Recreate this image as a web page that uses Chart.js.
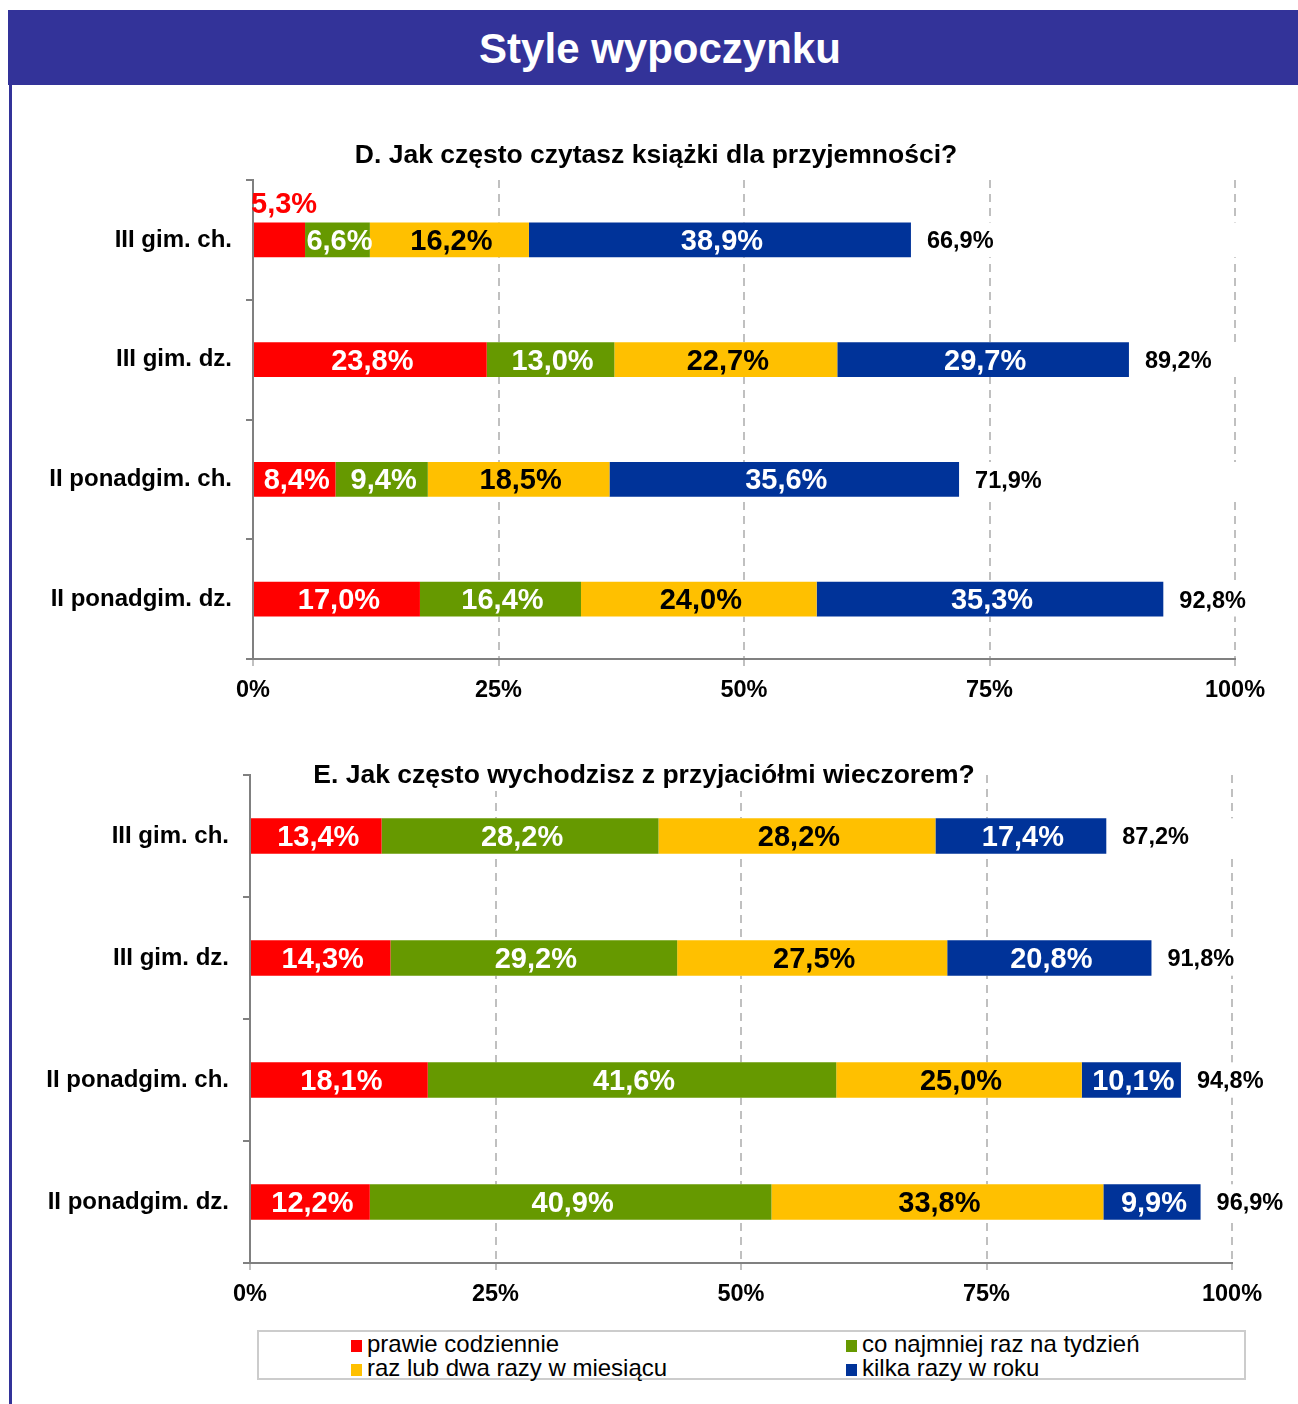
<!DOCTYPE html>
<html lang="pl">
<head>
<meta charset="utf-8">
<title>Style wypoczynku</title>
<script src="https://cdn.jsdelivr.net/npm/chart.js@4.4.1/dist/chart.umd.min.js"></script>
<style>
  body { margin: 0; background: #fff; font-family: 'Liberation Sans', Arial, sans-serif; }
  #page { position: relative; width: 1298px; height: 1404px; overflow: hidden; }
  #header {
    position: absolute; left: 8px; top: 10px; width: 1290px; height: 75px;
    background: #333399; color: #fff; font-weight: bold; font-size: 42px;
    text-align: center; line-height: 77px; padding-left: 14px; box-sizing: border-box;
  }
  #leftLine { position: absolute; left: 9px; top: 84px; width: 3px; height: 1320px; background: #333399; }
  canvas { position: absolute; left: 0; }
  #legend {
    position: absolute; left: 257px; top: 1330px; width: 989px; height: 50px;
    border: 2px solid #cccccc; box-sizing: border-box;
  }
  .item { position: absolute; font-size: 24px; line-height: 24px; color: #000; white-space: nowrap; }
  .mark { display: inline-block; width: 11px; height: 12px; margin-right: 5px; }
</style>
</head>
<body>
<div id="page">
  <div id="header">Style wypoczynku</div>
  <div id="leftLine"></div>
  <canvas id="chartD" width="1298" height="620" style="top:100px"></canvas>
  <canvas id="chartE" width="1298" height="600" style="top:720px"></canvas>
  <div id="legend"></div>
</div>

<script>
// categories and series
const categories = ['III gim. ch.', 'III gim. dz.', 'II ponadgim. ch.', 'II ponadgim. dz.'];
const seriesNames = ['prawie codziennie', 'co najmniej raz na tydzień', 'raz lub dwa razy w miesiącu', 'kilka razy w roku'];
const xTicks = [0, 25, 50, 75, 100];

// D. Jak często czytasz książki dla przyjemności?
const booksDaily = [5.3, 23.8, 8.4, 17.0];
const booksWeekly = [6.6, 13.0, 9.4, 16.4];
const booksMonthly = [16.2, 22.7, 18.5, 24.0];
const booksYearly = [38.9, 29.7, 35.6, 35.3];
const booksTotal = [66.9, 89.2, 71.9, 92.8];

// E. Jak często wychodzisz z przyjaciółmi wieczorem?
const friendsDaily = [13.4, 14.3, 18.1, 12.2];
const friendsWeekly = [28.2, 29.2, 41.6, 40.9];
const friendsMonthly = [28.2, 27.5, 25.0, 33.8];
const friendsYearly = [17.4, 20.8, 10.1, 9.9];
const friendsTotal = [87.2, 91.8, 94.8, 96.9];

const FONT = "'Liberation Sans', Arial, sans-serif";
const colors = ['#ff0000', '#669900', '#ffc000', '#003399'];
const textColors = ['#ffffff', '#ffffff', '#000000', '#ffffff'];

const fmt = v => v.toFixed(1).replace('.', ',') + '%';

// labels inside the bars, totals, title
const barLabels = {
    id: 'barLabels',
    beforeDatasetsDraw(chart) {
        // white band behind each bar row hides the gridlines there
        const { ctx, chartArea } = chart;
        const meta = chart.getDatasetMeta(0);
        ctx.save();
        ctx.fillStyle = '#ffffff';
        meta.data.forEach(bar => {
            ctx.fillRect(chartArea.left + 2, bar.y - bar.height / 2, chartArea.right - chartArea.left + 2, bar.height);
        });
        ctx.restore();
    },
    afterDatasetsDraw(chart, args, opts) {
        const { ctx } = chart;
        ctx.save();
        ctx.font = 'bold 29px ' + FONT;
        chart.data.datasets.forEach((ds, di) => {
            const meta = chart.getDatasetMeta(di);
            meta.data.forEach((bar, i) => {
                const text = fmt(ds.data[i]);
                const w = ctx.measureText(text).width;
                if (w > bar.x - bar.base + 4) {
                    // too small: put it above the bar in the series colour
                    ctx.fillStyle = ds.backgroundColor;
                    ctx.textAlign = 'left';
                    ctx.textBaseline = 'alphabetic';
                    ctx.fillText(text, bar.base - 3, bar.y - bar.height / 2 - 10);
                } else {
                    ctx.fillStyle = ds.labelColor;
                    ctx.textAlign = 'center';
                    ctx.textBaseline = 'middle';
                    ctx.fillText(text, (bar.x + bar.base) / 2 + 2, bar.y + 2);
                }
            });
        });

        const last = chart.getDatasetMeta(chart.data.datasets.length - 1);
        ctx.font = 'bold 23.5px ' + FONT;
        ctx.fillStyle = '#000000';
        ctx.textAlign = 'left';
        ctx.textBaseline = 'middle';
        last.data.forEach((bar, i) => ctx.fillText(fmt(opts.totals[i]), bar.x + 16, bar.y + 2));
        ctx.restore();
    },
    afterDraw(chart, args, opts) {
        const { ctx } = chart;
        ctx.save();
        ctx.font = 'bold 26.5px ' + FONT;
        const w = ctx.measureText(opts.title).width;
        if (opts.titleBg) {
            ctx.fillStyle = '#ffffff';
            ctx.fillRect(opts.titleX - w / 2 - 4, opts.titleY - 15, w + 8, 30);
        }
        ctx.fillStyle = '#000000';
        ctx.textAlign = 'center';
        ctx.textBaseline = 'middle';
        ctx.fillText(opts.title, opts.titleX, opts.titleY);
        ctx.restore();
    }
};

function makeChart(canvasId, values, totals, title, geo) {
    const datasets = values.map((data, i) => ({
        label: seriesNames[i],
        data: data,
        backgroundColor: colors[i],
        labelColor: textColors[i],
        borderWidth: 0,
        barPercentage: 0.29,
        categoryPercentage: 1
    }));

    return new Chart(document.getElementById(canvasId), {
        type: 'bar',
        data: { labels: categories, datasets: datasets },
        plugins: [barLabels],
        options: {
            indexAxis: 'y',
            responsive: false,
            animation: false,
            devicePixelRatio: 1,
            layout: { padding: { top: geo.top, right: geo.right, bottom: 0, left: 0 } },
            scales: {
                x: {
                    stacked: true,
                    min: 0,
                    max: 100,
                    afterBuildTicks: scale => { scale.ticks = xTicks.map(v => ({ value: v })); },
                    afterFit: scale => { scale.height = geo.xHeight; },
                    ticks: {
                        callback: v => v + '%',
                        color: '#000000',
                        font: { family: FONT, size: 23.5, weight: 'bold' },
                        padding: 10,
                        maxRotation: 0
                    },
                    grid: {
                        color: '#c0c0c0',
                        lineWidth: 2,
                        tickLength: 7,
                        tickColor: '#c0c0c0'
                    },
                    border: { display: true, color: '#808080', width: 2, dash: [8, 6] }
                },
                y: {
                    stacked: true,
                    afterFit: scale => { scale.width = geo.yWidth; },
                    ticks: {
                        color: '#000000',
                        font: { family: FONT, size: 24, weight: 'bold' },
                        padding: geo.labelPad
                    },
                    grid: {
                        offset: true,
                        drawOnChartArea: false,
                        drawTicks: true,
                        tickLength: 7,
                        color: '#808080',
                        lineWidth: 2
                    },
                    border: { display: true, color: '#808080', width: 2 }
                }
            },
            plugins: {
                legend: { display: false },
                title: { display: false },
                tooltip: { enabled: false },
                barLabels: { totals: totals, title: title, titleX: geo.titleX, titleY: geo.titleY, titleBg: geo.titleBg }
            }
        }
    });
}

makeChart('chartD', [booksDaily, booksWeekly, booksMonthly, booksYearly], booksTotal,
    'D. Jak często czytasz książki dla przyjemności?',
    { top: 80, right: 63, xHeight: 61, yWidth: 253, labelPad: 14, titleX: 656, titleY: 56, titleBg: false });

makeChart('chartE', [friendsDaily, friendsWeekly, friendsMonthly, friendsYearly], friendsTotal,
    'E. Jak często wychodzisz z przyjaciółmi wieczorem?',
    { top: 55, right: 66, xHeight: 57, yWidth: 250, labelPad: 14, titleX: 644, titleY: 56, titleBg: true });

// legend box
const legend = document.getElementById('legend');
seriesNames.forEach((name, i) => {
    const item = document.createElement('div');
    item.className = 'item';
    item.style.left = (92 + (i % 2) * 495) + 'px';
    item.style.top = (0 + Math.floor(i / 2) * 24) + 'px';
    const mark = document.createElement('span');
    mark.className = 'mark';
    mark.style.background = colors[i];
    item.appendChild(mark);
    item.appendChild(document.createTextNode(name));
    legend.appendChild(item);
});
</script>
</body>
</html>
